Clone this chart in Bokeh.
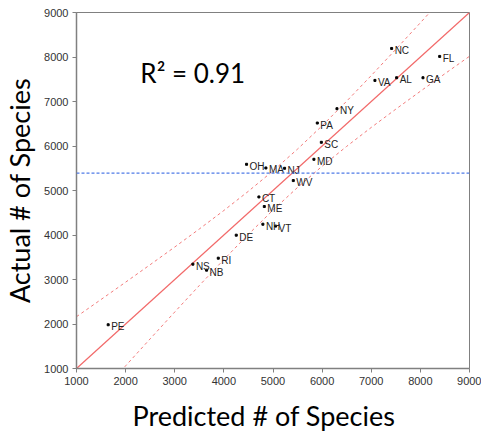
from bokeh.plotting import figure
from bokeh.models import Range1d, FixedTicker, Label, ColumnDataSource, Span, Title
from bokeh.core.properties import value
from bokeh.embed import file_html
from bokeh.resources import INLINE

# --- data ---
states = ["NC", "FL", "VA", "AL", "GA", "NY", "PA", "SC", "MD", "OH", "MA",
          "NJ", "WV", "CT", "ME", "NH", "VT", "DE", "NS", "NB", "RI", "PE"]
predicted = [7415, 8393, 7075, 7517, 8053, 6302, 5902, 5984, 5833, 4462, 4855,
             5236, 5413, 4713, 4823, 4794, 5053, 4252, 3369, 3648, 3886, 1645]
actual = [8192, 8013, 7474, 7534, 7534, 6838, 6516, 6083, 5701, 5589, 5506,
          5499, 5223, 4855, 4640, 4242, 4200, 3996, 3345, 3210, 3479, 1983]

fit_x = [1000, 9000]
fit_y = [1000, 9000]

band_x = [1000, 1500, 2000, 2500, 3000, 3500, 4000, 4500, 5000,
          5500, 6000, 6500, 7000, 7500, 8000, 8500, 9000]
band_upper = [2164, 2551, 2940, 3333, 3730, 4135, 4551, 4984, 5441,
              5931, 6455, 7008, 7583, 8172, 8770, 9375, 9984]
band_lower = [-164, 449, 1060, 1667, 2270, 2865, 3449, 4016, 4559,
              5069, 5545, 5992, 6417, 6828, 7230, 7625, 8016]

mean_actual = 5390
r2_text = "R\u00b2 = 0.91"
x_title = "Predicted # of Species"
y_title = "Actual # of Species"
ticks = [1000, 2000, 3000, 4000, 5000, 6000, 7000, 8000, 9000]

# --- figure ---
p = figure(frame_width=393, frame_height=356, output_backend="svg",
           toolbar_location=None,
           x_range=Range1d(1000, 9000), y_range=Range1d(1000, 9000),
           min_border_left=76, min_border_right=12, min_border_top=12,
           min_border_bottom=0)
p.grid.visible = False
p.background_fill_color = "white"
p.border_fill_color = "white"
p.outline_line_color = "#808080"
p.outline_line_width = 1

for ax in (p.xaxis[0], p.yaxis[0]):
    ax.ticker = FixedTicker(ticks=ticks)
    ax.minor_tick_line_color = None
    ax.major_tick_in = 0
    ax.major_tick_out = 4
    ax.major_tick_line_color = "#808080"
    ax.axis_line_color = "#808080"
    ax.axis_line_width = 1.5
    ax.major_label_text_font = "Liberation Sans"
    ax.major_label_text_font_size = "11px"
    ax.major_label_text_color = "#333333"
    ax.major_label_standoff = 4

p.yaxis.axis_label = y_title
p.yaxis.axis_label_text_font = "Lato"
p.yaxis.axis_label_text_font_size = "27px"
p.yaxis.axis_label_text_font_style = "normal"
p.yaxis.axis_label_text_color = "black"
p.yaxis.axis_label_standoff = 5

p.add_layout(Title(text=x_title, text_font="Lato", text_font_size="27px",
                   text_font_style="normal", text_color="black",
                   align="left", offset=56, standoff=18), "below")

# bands and fit line
p.line(band_x, band_upper, line_color="#f27b7b", line_width=1, line_dash="3 3")
p.line(band_x, band_lower, line_color="#f27b7b", line_width=1, line_dash="3 3")
p.line(fit_x, fit_y, line_color="#f26a6a", line_width=1.2)

# mean line
p.add_layout(Span(location=mean_actual, dimension="width", line_color="#4f7be8",
                  line_width=1.2, line_dash="3 2"))

src = ColumnDataSource(dict(x=predicted, y=actual, s=states))
p.scatter("x", "y", source=src, marker="square", size=2, color="black")
p.text("x", "y", text="s", source=src, x_offset=3, y_offset=2,
       text_font=value("Liberation Sans"), text_font_size="10px",
       text_baseline="middle", text_align="left", text_color="#222222")

p.add_layout(Label(x=2300, y=7640, text=r2_text, text_font="Lato",
                   text_font_size="26px", text_color="black",
                   text_baseline="alphabetic"))

open("out.html", "w").write(file_html(p, INLINE))
